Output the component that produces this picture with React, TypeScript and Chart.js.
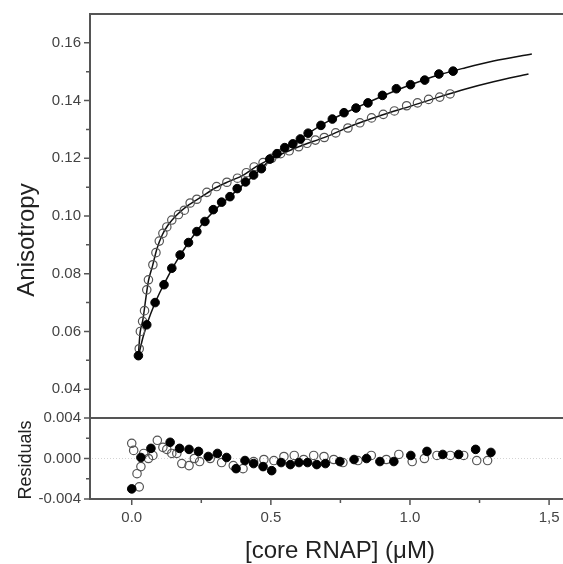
import React, { useEffect, useRef } from 'react';
import { Chart, registerables } from 'chart.js';
Chart.register(...registerables);

// ---- data ----
const filledX = [0.024,0.054,0.084,0.116,0.144,0.174,0.204,0.234,0.263,0.293,0.323,0.353,0.379,0.409,0.438,0.466,0.496,0.522,0.550,0.579,0.606,0.634,0.680,0.721,0.763,0.806,0.849,0.901,0.951,1.002,1.053,1.104,1.155];
const filledY = [0.0516,0.0623,0.0700,0.0762,0.0819,0.0865,0.0908,0.0946,0.0981,0.1022,0.1048,0.1067,0.1095,0.1118,0.1142,0.1164,0.1197,0.1216,0.1237,0.1250,0.1267,0.1287,0.1314,0.1336,0.1358,0.1374,0.1392,0.1418,0.1441,0.1455,0.1471,0.1492,0.1502];

const openX = [0.027,0.031,0.039,0.046,0.054,0.060,0.076,0.087,0.099,0.112,0.126,0.144,0.168,0.189,0.210,0.234,0.270,0.305,0.342,0.380,0.412,0.440,0.472,0.503,0.535,0.566,0.600,0.630,0.660,0.692,0.733,0.777,0.820,0.862,0.904,0.944,0.988,1.027,1.067,1.107,1.144];
const openY = [0.0540,0.0600,0.0635,0.0672,0.0744,0.0779,0.0831,0.0873,0.0913,0.0940,0.0962,0.0986,0.1005,0.1020,0.1045,0.1058,0.1082,0.1102,0.1117,0.1131,0.1150,0.1170,0.1185,0.1200,0.1216,0.1226,0.1240,0.1252,0.1263,0.1272,0.1288,0.1305,0.1323,0.1340,0.1352,0.1364,0.1382,0.1392,0.1404,0.1412,0.1423];

const filledFitX = [0.022,0.04,0.06,0.08,0.1,0.13,0.16,0.2,0.25,0.3,0.35,0.4,0.45,0.5,0.55,0.6,0.7,0.8,0.9,1.0,1.1,1.2,1.3,1.438];
const filledFitY = [0.0505,0.0578,0.0640,0.0690,0.0733,0.0790,0.0842,0.0902,0.0968,0.1022,0.1065,0.1108,0.1150,0.1197,0.1235,0.1265,0.1325,0.1372,0.1415,0.1454,0.1488,0.1514,0.1537,0.1561];

const openFitX = [0.024,0.03,0.04,0.05,0.06,0.075,0.09,0.11,0.13,0.16,0.2,0.25,0.3,0.35,0.4,0.45,0.5,0.6,0.7,0.8,0.9,1.0,1.1,1.2,1.3,1.426];
const openFitY = [0.0520,0.0595,0.0640,0.0710,0.0775,0.0828,0.0885,0.0935,0.0968,0.1002,0.1035,0.1066,0.1097,0.1120,0.1141,0.1173,0.1198,0.1240,0.1275,0.1316,0.1350,0.1380,0.1411,0.1440,0.1465,0.1492];

const filledResX = [0.000,0.033,0.069,0.138,0.172,0.206,0.240,0.275,0.308,0.341,0.375,0.407,0.438,0.472,0.503,0.537,0.570,0.601,0.632,0.665,0.696,0.748,0.799,0.844,0.892,0.942,1.003,1.061,1.118,1.175,1.236,1.291];
const filledResY = [-0.0030,0.0001,0.0010,0.0016,0.0010,0.0009,0.0007,0.0002,0.0005,0.0001,-0.0010,-0.0002,-0.0005,-0.0008,-0.0012,-0.0004,-0.0006,-0.0004,-0.0004,-0.0006,-0.0005,-0.0003,-0.0001,0.0000,-0.0003,-0.0003,0.0003,0.0007,0.0004,0.0004,0.0009,0.0006];

const openResX = [0.000,0.007,0.019,0.027,0.033,0.043,0.060,0.076,0.092,0.112,0.126,0.144,0.162,0.180,0.206,0.225,0.244,0.282,0.323,0.365,0.400,0.438,0.475,0.511,0.547,0.584,0.618,0.654,0.691,0.726,0.759,0.813,0.861,0.915,0.960,1.008,1.052,1.097,1.145,1.193,1.240,1.279];
const openResY = [0.0015,0.0008,-0.0015,-0.0028,-0.0008,0.0005,0.0000,0.0003,0.0018,0.0011,0.0009,0.0005,0.0005,-0.0005,-0.0007,0.0000,-0.0003,0.0000,-0.0004,-0.0007,-0.0010,-0.0003,-0.0001,-0.0002,0.0002,0.0003,-0.0001,0.0003,0.0002,-0.0001,-0.0004,-0.0002,0.0003,-0.0001,0.0004,-0.0003,0.0000,0.0003,0.0003,0.0003,-0.0002,-0.0002];

const xTickValues = [0, 0.5, 1.0, 1.5];
const xTickLabels = ['0.0', '0.5', '1.0', '1,5'];
const xMinorTicks = [0.25, 0.75, 1.25];
const yTickValues = [0.04, 0.06, 0.08, 0.10, 0.12, 0.14, 0.16];
const yMinorTicks = [0.05, 0.07, 0.09, 0.11, 0.13, 0.15];
const resTickValues = [-0.004, 0, 0.004];
const resMinorTicks = [-0.002, 0.002];

const X_TITLE = '[core RNAP] (\u03bcM)';
const Y_TITLE = 'Anisotropy';
const RES_TITLE = 'Residuals';

const FONT = '"Liberation Sans", Arial, Helvetica, sans-serif';
const AXIS = '#555';

const zip = (xs: number[], ys: number[]) => xs.map((x, i) => ({ x, y: ys[i] }));

const decor = {
  id: 'decor',
  beforeDatasetsDraw(chart: any) {
    const { ctx, chartArea, scales } = chart;
    const y0 = scales.yRes.getPixelForValue(0);
    ctx.save();
    ctx.strokeStyle = '#d4d4d4';
    ctx.lineWidth = 1;
    ctx.setLineDash([1, 2]);
    ctx.beginPath();
    ctx.moveTo(chartArea.left + 2, y0);
    ctx.lineTo(chart.width, y0);
    ctx.stroke();
    ctx.restore();
  },
  afterDraw(chart: any) {
    const { ctx, chartArea, scales } = chart;
    const { left, top, bottom } = chartArea;
    const right = chart.width;
    ctx.save();
    ctx.strokeStyle = AXIS;
    ctx.lineWidth = 2;
    ctx.beginPath();
    ctx.moveTo(left - 1, top);
    ctx.lineTo(right, top);
    const yDiv = scales.yRes.getPixelForValue(0.004);
    ctx.moveTo(left - 1, yDiv);
    ctx.lineTo(right, yDiv);
    ctx.stroke();

    // major + minor ticks
    ctx.lineWidth = 1.5;
    ctx.beginPath();
    const yTick = (p: number, len: number) => { ctx.moveTo(left - len, p); ctx.lineTo(left, p); };
    yTickValues.forEach((v) => yTick(scales.y.getPixelForValue(v), 6));
    yMinorTicks.forEach((v) => yTick(scales.y.getPixelForValue(v), 4));
    resTickValues.forEach((v) => yTick(scales.yRes.getPixelForValue(v), 6));
    resMinorTicks.forEach((v) => yTick(scales.yRes.getPixelForValue(v), 4));
    const xTick = (p: number, len: number) => { ctx.moveTo(p, bottom); ctx.lineTo(p, bottom + len); };
    xTickValues.forEach((v) => xTick(scales.x.getPixelForValue(v), 6));
    xMinorTicks.forEach((v) => xTick(scales.x.getPixelForValue(v), 4));
    ctx.stroke();

    // titles
    ctx.fillStyle = '#222';
    ctx.textAlign = 'center';
    ctx.textBaseline = 'alphabetic';
    ctx.font = `24px ${FONT}`;
    ctx.fillText(X_TITLE, 340, 558);

    ctx.save();
    ctx.translate(34, 240);
    ctx.rotate(-Math.PI / 2);
    ctx.fillText(Y_TITLE, 0, 0);
    ctx.restore();

    ctx.save();
    ctx.translate(31, 460);
    ctx.rotate(-Math.PI / 2);
    ctx.font = `18px ${FONT}`;
    ctx.fillText(RES_TITLE, 0, 0);
    ctx.restore();

    ctx.restore();
  },
};

const tickFont = { family: FONT, size: 15 };
const hiddenGrid = { display: false, drawTicks: true, tickLength: 6 };

export default function App() {
  const ref = useRef<HTMLCanvasElement | null>(null);
  useEffect(() => {
    if (!ref.current) return;
    const filledPt = {
      pointRadius: 4.3,
      pointBackgroundColor: '#000',
      pointBorderColor: '#000',
      pointBorderWidth: 1,
      showLine: false,
      order: 1,
    };
    const openPt = {
      pointRadius: 4.2,
      pointBackgroundColor: 'rgba(255,255,255,0)',
      pointBorderColor: '#555',
      pointBorderWidth: 1.2,
      showLine: false,
      order: 1,
    };
    const fitLine = {
      pointRadius: 0,
      borderColor: '#111',
      borderWidth: 1.5,
      showLine: true,
      cubicInterpolationMode: 'monotone',
      order: 2,
    };
    const chart = new Chart(ref.current, {
      type: 'scatter',
      data: {
        datasets: [
          { ...fitLine, data: zip(filledFitX, filledFitY), yAxisID: 'y' } as any,
          { ...fitLine, data: zip(openFitX, openFitY), yAxisID: 'y' } as any,
          { ...filledPt, data: zip(filledX, filledY), yAxisID: 'y' },
          { ...openPt, data: zip(openX, openY), yAxisID: 'y' },
          { ...filledPt, data: zip(filledResX, filledResY), yAxisID: 'yRes' },
          { ...openPt, data: zip(openResX, openResY), yAxisID: 'yRes' },
        ],
      },
      options: {
        animation: false,
        responsive: false,
        maintainAspectRatio: false,
        layout: { autoPadding: false, padding: { top: 14, left: 0, right: 0, bottom: 0 } },
        plugins: { legend: { display: false }, tooltip: { enabled: false } },
        scales: {
          x: {
            type: 'linear',
            position: 'bottom',
            min: -0.15,
            max: 1.55,
            afterBuildTicks: (s: any) => { s.ticks = xTickValues.map((v) => ({ value: v })); },
            afterFit: (s: any) => { s.height = 65; s.paddingLeft = 0; s.paddingRight = 0; },
            ticks: {
              callback: (_v: any, i: number) => xTickLabels[i],
              font: tickFont,
              color: '#444',
              padding: 4,
              maxRotation: 0,
            },
            grid: hiddenGrid,
            border: { display: true, color: AXIS, width: 2 },
          },
          yRes: {
            type: 'linear',
            position: 'left',
            stack: 'panels',
            stackWeight: 81,
            min: -0.004,
            max: 0.004,
            afterBuildTicks: (s: any) => { s.ticks = resTickValues.map((v) => ({ value: v })); },
            afterFit: (s: any) => { s.width = 90; s.paddingTop = 0; s.paddingBottom = 0; },
            ticks: {
              callback: (v: any) => Number(v).toFixed(3).replace('-0.000', '0.000'),
              font: tickFont,
              color: '#444',
              padding: 3,
            },
            grid: hiddenGrid,
            border: { display: true, color: AXIS, width: 2 },
          },
          y: {
            type: 'linear',
            position: 'left',
            stack: 'panels',
            stackWeight: 404,
            min: 0.03,
            max: 0.17,
            afterBuildTicks: (s: any) => { s.ticks = yTickValues.map((v) => ({ value: v })); },
            afterFit: (s: any) => { s.width = 90; s.paddingTop = 0; s.paddingBottom = 0; },
            ticks: {
              callback: (v: any) => Number(v).toFixed(2),
              font: tickFont,
              color: '#444',
              padding: 3,
            },
            grid: hiddenGrid,
            border: { display: true, color: AXIS, width: 2 },
          },
        } as any,
      },
      plugins: [decor],
    });
    return () => chart.destroy();
  }, []);

  return (
    <div style={{ position: 'absolute', left: 0, top: 0, width: 563, height: 564, background: '#fff' }}>
      <canvas ref={ref} width={563} height={564} style={{ display: 'block', width: 563, height: 564 }} />
    </div>
  );
}
